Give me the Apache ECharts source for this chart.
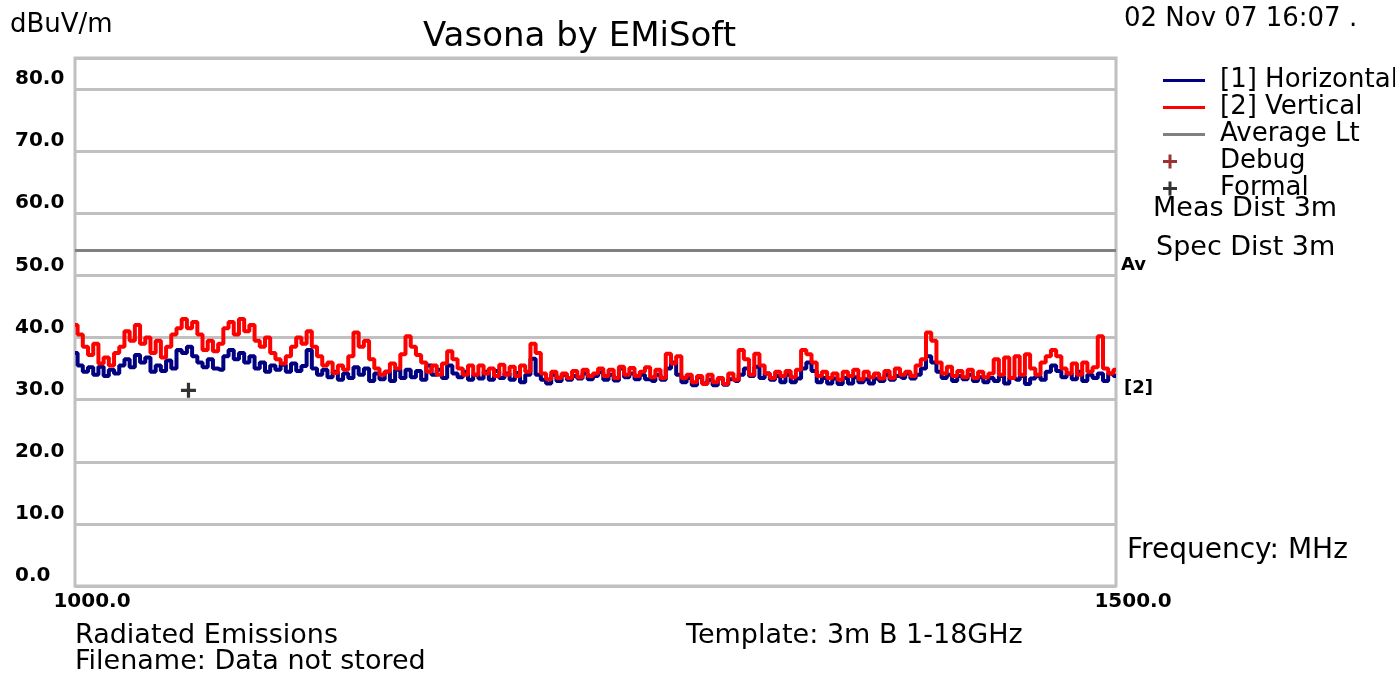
<!DOCTYPE html>
<html>
<head>
<meta charset="utf-8">
<script src="https://cdn.jsdelivr.net/npm/echarts@6/dist/echarts.min.js"></script>
<style>
  html, body { margin: 0; padding: 0; background: #ffffff; }
  #chart { width: 1395px; height: 679px; }
</style>
</head>
<body>
<div id="chart"></div>
<script>
// ---- Data ----
const FREQ_START_MHZ = 1000;   // sweep start
const FREQ_STEP_MHZ = 2.5;     // sweep step between readings
const X_TICKS = [1000, 1500];
const Y_TICKS = [0, 10, 20, 30, 40, 50, 60, 70, 80];

// [2] Vertical (red), dBuV/m
const verticalValues = [
  42, 40.5, 38.5, 37.2, 39, 35.8, 36.8, 35.5, 37.5, 38.5,
  41, 39.5, 42, 39, 40, 37.5, 39.5, 36.8, 38.5, 40.5,
  41.5, 43, 41.5, 42.5, 40.5, 38, 39.5, 37.8, 39, 41.5,
  42.5, 40.5, 43, 41, 42, 39.5, 38.5, 40, 37.5, 36.5,
  35.8, 37, 38.5, 40, 39, 41, 38.5, 37, 35.5, 36,
  34.3, 35.5, 34.8, 37, 40.8, 38.5, 39.5, 36.5, 35, 34,
  34.5, 35.8, 35, 37.3, 40.2, 38.5, 37.2, 36, 34.5, 35.5,
  34, 35.8, 37.8, 36.5, 35, 34, 35.5, 34, 35.5, 34.2,
  35, 33.8, 35.6, 34, 35.3, 33.8, 35.5, 34.5, 39, 37.5,
  34.2, 33.3, 34.5, 33.5, 34.2, 33.5, 34.6, 33.6, 34.8, 33.8,
  34.2, 35, 33.8, 34.8, 33.5, 35.3, 34, 35.1, 33.8, 34.5,
  35.2, 33.6, 34.8, 33.5, 37.4, 35.8, 37, 33.5, 34, 32.8,
  33.8, 32.5, 34, 32.8, 33.5, 32.5, 34.2, 33.2, 38, 36.5,
  34, 37.4, 35.5, 34.2, 33.5, 34.5, 33.8, 34.6, 33.6, 34.8,
  38, 37.3, 36, 33.8, 34.5, 33.5, 34.2, 33.2, 34.5, 33.8,
  34.8, 33.3, 34.5, 33.6, 34.2, 33.4, 34.6, 33.5, 35, 34,
  34.5, 33.8, 35.5, 36.5, 40.8, 39.5, 36, 34.2, 35.3, 33.8,
  34.6, 33.6, 34.8, 33.5, 34.5, 33.6, 34.2, 36.5, 34, 36.8,
  33.5, 37, 34, 37.3, 35, 34, 36, 37, 38, 37,
  35, 34.2, 35.8, 34, 36, 34.5, 35.2, 40.2, 35, 34.2,
  34.8
];

// [1] Horizontal (navy), dBuV/m
const horizontalValues = [
  37.5, 35.5, 34.5, 35.2, 34, 35.3, 33.8, 34.8, 34.2, 35.5,
  36.5, 35.2, 37.2, 36, 36.8, 34.5, 35.5, 34.6, 36.3, 35,
  38, 37.5, 38.5, 37, 36, 35.2, 36.5, 35, 34.8, 37,
  38, 36.5, 37.5, 36, 37, 35, 36, 34.5, 35.5, 34.8,
  35.6, 34.5, 35.8, 34.6, 35.4, 38, 35, 34, 34.8, 33.6,
  34.5, 33.2, 34.2, 33.5, 35.2, 34, 35, 33, 34.2, 33.3,
  34.5, 33, 34.8, 33.5, 34.8, 33.6, 34.6, 33.2, 35.5, 34,
  34.8, 33.5, 35.5, 34.2, 33.6, 34.5, 33.2, 34, 33.4, 34.5,
  33.2, 34.6, 33.5, 34.2, 33.2, 34.3, 32.8, 34, 36.6, 34,
  33.2, 32.6, 34, 33, 34, 33.2, 33.8, 33.4, 34.2, 33.3,
  33.8, 34.4, 33.2, 34, 33.1, 35, 33.6, 34.2, 33.3, 34,
  33.3, 33, 34, 33.2, 35, 36, 34, 32.8, 33.5, 32.3,
  33.6, 32.6, 33.2, 32.3, 33.4, 32.4, 33.3, 33, 34, 35,
  33.8, 35.3, 33.5, 34.2, 33.2, 33.8, 32.8, 34, 32.8, 33.4,
  35, 36, 34.6, 32.8, 33.5, 32.6, 33.4, 32.5, 33.5, 32.6,
  33.6, 32.8, 33.3, 32.6, 33.4, 33, 34, 33.2, 33.8, 33.5,
  34.2, 33.4, 34, 35, 37, 36, 34.5, 33.5, 34, 33,
  33.8, 33.3, 34, 33, 33.6, 32.8, 33.5, 33, 33.8, 32.6,
  33.5, 33.2, 33.8, 32.5, 33.4, 33.8, 33.2, 34.5, 35.5, 34.6,
  33.6, 34.2, 33.3, 34.5, 33, 34, 33.5, 34.2, 33, 34.2,
  33.8
];

const averageLimit = [[1000, 54], [1500, 54]];
const formalPoints = [[1054.5, 31.5]];
const debugPoints = [];

// ---- Build ----
const toPairs = vals => vals.map((v, i) => [FREQ_START_MHZ + i * FREQ_STEP_MHZ, v]);

const FONT = "'DejaVu Sans', 'Liberation Sans', sans-serif";
const GRID_GREY = '#c0c0c0';

const lineIcon = 'path://M0,5.5 H42 V8.5 H0 Z M51.99,0 L52,0 L52,0.01 Z M51.99,14 L52,14 L52,13.99 Z';
const plusIcon = 'path://M5.5,0 H8.5 V5.5 H14 V8.5 H8.5 V14 H5.5 V8.5 H0 V5.5 H5.5 Z M51.99,0 L52,0 L52,0.01 Z M51.99,14 L52,14 L52,13.99 Z';
const plusSymbol = 'path://M5.5,0 H8.5 V5.5 H14 V8.5 H8.5 V14 H5.5 V8.5 H0 V5.5 H5.5 Z';

const chart = echarts.init(document.getElementById('chart'), null, { renderer: 'canvas' });

function txt(text, x, y, size, weight) {
  return {
    type: 'text',
    x: x, y: y,
    silent: true,
    style: {
      text: text,
      fill: '#000',
      font: (weight ? weight + ' ' : '') + size + 'px ' + FONT,
      verticalAlign: 'middle',
      align: 'left'
    }
  };
}

const option = {
  backgroundColor: '#ffffff',
  animation: false,
  title: {
    text: 'Vasona by EMiSoft',
    left: 418,
    top: 15,
    textStyle: { fontFamily: FONT, fontSize: 34, fontWeight: 'normal', color: '#000' }
  },
  legend: {
    orient: 'vertical',
    left: 1158,
    top: 62,
    itemWidth: 52,
    itemHeight: 14,
    itemGap: 0,
    selectedMode: false,
    itemStyle: { borderWidth: 0 },
    textStyle: { fontFamily: FONT, fontSize: 26, color: '#000', lineHeight: 27 },
    data: [
      { name: '[1] Horizontal', icon: lineIcon },
      { name: '[2] Vertical', icon: lineIcon },
      { name: 'Average Lt', icon: lineIcon },
      { name: 'Debug', icon: plusIcon },
      { name: 'Formal', icon: plusIcon }
    ]
  },
  grid: {
    left: 75, right: 279, top: 58, bottom: 93,
    show: true,
    borderColor: GRID_GREY,
    borderWidth: 3,
    containLabel: false
  },
  xAxis: {
    type: 'value',
    min: X_TICKS[0],
    max: X_TICKS[X_TICKS.length - 1],
    interval: X_TICKS[1] - X_TICKS[0],
    axisLine: { show: false },
    axisTick: { show: false },
    splitLine: { show: false },
    axisLabel: {
      margin: 6,
      fontFamily: FONT,
      fontSize: 20,
      fontWeight: 'bold',
      color: '#000',
      padding: [0, 0, 0, 34],
      formatter: v => X_TICKS.indexOf(v) >= 0 ? v.toFixed(1) : ''
    }
  },
  yAxis: {
    type: 'value',
    min: 0,
    max: 85,
    interval: 10,
    axisLine: { show: false },
    axisTick: { show: false },
    splitLine: { show: true, lineStyle: { color: GRID_GREY, width: 3 } },
    axisLabel: {
      margin: 60,
      align: 'left',
      verticalAlign: 'bottom',
      fontFamily: FONT,
      fontSize: 20,
      fontWeight: 'bold',
      color: '#000',
      formatter: v => Y_TICKS.indexOf(v) >= 0 ? v.toFixed(1) : ''
    }
  },
  series: [
    {
      name: '[1] Horizontal',
      type: 'line',
      step: 'middle',
      showSymbol: false,
      data: toPairs(horizontalValues),
      itemStyle: { color: '#000080' },
      lineStyle: { color: '#000080', width: 4 },
      z: 3
    },
    {
      name: '[2] Vertical',
      type: 'line',
      step: 'middle',
      showSymbol: false,
      data: toPairs(verticalValues),
      itemStyle: { color: '#ff0000' },
      lineStyle: { color: '#ff0000', width: 4 },
      z: 4
    },
    {
      name: 'Average Lt',
      type: 'line',
      showSymbol: false,
      data: averageLimit,
      itemStyle: { color: '#808080' },
      lineStyle: { color: '#808080', width: 3 },
      z: 2
    },
    {
      name: 'Debug',
      type: 'scatter',
      symbol: plusSymbol,
      symbolSize: 15,
      data: debugPoints,
      itemStyle: { color: '#800000' }
    },
    {
      name: 'Formal',
      type: 'scatter',
      symbol: plusSymbol,
      symbolSize: 15,
      data: formalPoints,
      itemStyle: { color: '#000000' },
      z: 5
    }
  ],
  graphic: [
    txt('dBuV/m', 10, 25, 26),
    txt('02 Nov 07 16:07 .', 1124, 19, 26),
    txt('Meas Dist 3m', 1153, 209, 27),
    txt('Spec Dist 3m', 1156, 248, 27),
    txt('Av', 1121, 265, 18, 'bold'),
    txt('[2]', 1124, 388, 18, 'bold'),
    txt('Frequency: MHz', 1127, 551, 28),
    txt('Radiated Emissions', 75, 636, 27),
    txt('Filename: Data not stored', 75, 662, 27),
    txt('Template: 3m B 1-18GHz', 686, 636, 27)
  ]
};

chart.setOption(option);
</script>
</body>
</html>
